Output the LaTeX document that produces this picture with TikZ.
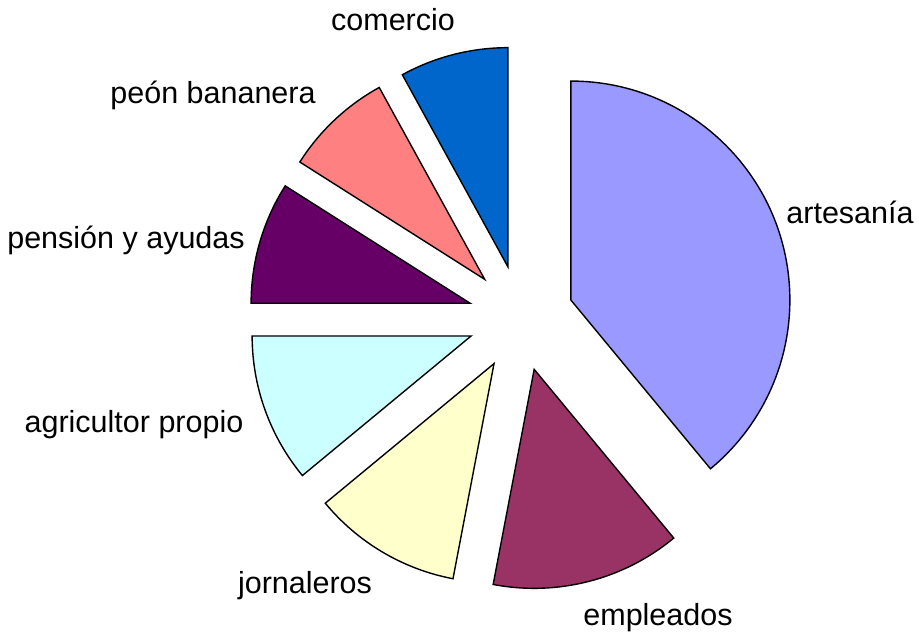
\documentclass[tikz,border=0pt]{standalone}
\usepackage{fontspec}
\setmainfont{Liberation Sans}
\definecolor{cArt}{HTML}{9999FF}
\definecolor{cEmp}{HTML}{993366}
\definecolor{cJor}{HTML}{FFFFCC}
\definecolor{cAgr}{HTML}{CCFFFF}
\definecolor{cPen}{HTML}{660066}
\definecolor{cPeo}{HTML}{FF8080}
\definecolor{cCom}{HTML}{0066CC}
\begin{document}
\begin{tikzpicture}[x=1pt,y=1pt,
  slice/.style={draw=black,line width=1.4pt,line join=miter},
  lbl/.style={anchor=base,inner sep=0pt,font=\fontsize{30.5}{36}\selectfont}]
\useasboundingbox (0,0) rectangle (919,-635);
\coordinate (C) at (521,-318);
\foreach \a/\b/\col/\nm in {90/-50.4/cArt/art,-50.4/-100.8/cEmp/emp,-100.8/-140.4/cJor/jor,-140.4/-180/cAgr/agr,180/147.6/cPen/pen,147.6/118.8/cPeo/peo,118.8/90/cCom/com}{
  \pgfmathsetmacro\m{(\a+\b)/2}
  \path (C) ++(\m:53pt) coordinate (p\nm);
  \filldraw[slice,fill=\col] (p\nm) -- ++(\a:219pt) arc[start angle=\a,end angle=\b,radius=219pt] -- cycle;
}
\node[lbl] (lcom) at (393,-30) {comercio};
\node[lbl] (lart) at (850,-223) {artesanía};
\node[lbl] (lpen) at (126,-248) {pensión y ayudas};
\node[lbl] (lemp) at (658,-625) {empleados};
\node[lbl] (lpeo) at (213,-103) {peón bananera};
\node[lbl] (lagr) at (134,-432) {agricultor propio};
\node[lbl] (ljor) at (305,-593) {jornaleros};
\end{tikzpicture}
\end{document}
